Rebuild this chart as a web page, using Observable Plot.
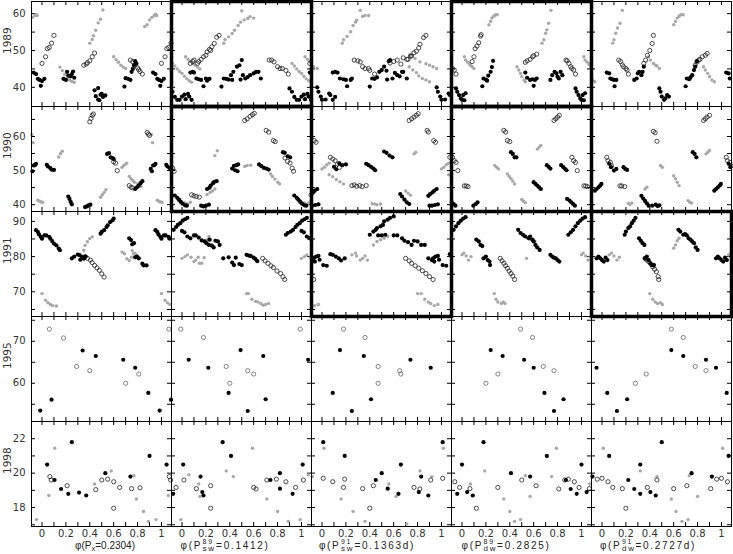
<!DOCTYPE html>
<html><head><meta charset="utf-8">
<script src="https://cdn.jsdelivr.net/npm/d3@7"></script>
<script src="https://cdn.jsdelivr.net/npm/@observablehq/plot@0.6"></script>
<style>
body{margin:0;background:#fff;font-family:"Liberation Sans",Arial,sans-serif;}
#chart{position:relative;width:733px;height:554px;overflow:hidden;}
#chart svg{position:absolute;overflow:visible;}
.xt{position:absolute;font-family:"Liberation Sans",Arial,sans-serif;font-size:10px;color:#222;white-space:nowrap;line-height:10px;transform:translateX(-50%);}
.xt.wide{letter-spacing:1.7px;}
.st{position:relative;display:inline-block;height:0;width:11px;}
.xt.wide .st{width:14px;}
.st .up{position:absolute;left:0.5px;top:-11.5px;font-size:7px;line-height:7px;}
.st .dn{position:absolute;left:0.5px;top:-4px;font-size:8px;line-height:8px;}
.sb{font-size:7.5px;line-height:0;vertical-align:-2px;}
</style></head><body><div id="chart"></div><script>
const years = ["1989","1990","1991","1995","1998"];
const periodSup = ["","89","91","89","91"];
const periodSub = ["x","sw","sw","dw","dw"];
const periodVal = ["0.2304","0.1412","0.1363d","0.2825","0.2727d"];
const phaseTicks = [0,0.1,0.2,0.3,0.4,0.5,0.6,0.7,0.8,0.9,1];
const phaseLabels = [0,0.2,0.4,0.6,0.8,1];
const yDomains = [[34.8,63.3],[38,68.8],[63,92.8],[50.9,75.9],[16.9,23]];
const yTicks = [[40,45,50,55,60],[40,45,50,55,60,65],[65,70,75,80,85,90],[55,60,65,70,75],[17,18,19,20,21,22]];
const yLabels = [[40,50,60],[40,50,60],[70,80,90],[60,70],[18,20,22]];
const thickPanels = [[0,1],[0,3],[1,1],[1,3],[2,2],[2,4]];

// [column, phase, value]
const f1989 = [[0,0.93,44],[0,0.95,43.6],[0,0.965,42.3],[0,0.98,42],[0,0.99,40.4],[0,0.0,41.7],[0,0.02,42.3],[0,0.18,42.3],[0,0.2,42],[0,0.21,44.2],[0,0.22,43.2],[0,0.24,43],[0,0.25,43.6],[0,0.26,44.3],[0,0.27,42.6],[0,0.44,39.2],[0,0.45,37.6],[0,0.47,36.7],[0,0.48,36.5],[0,0.49,38],[0,0.5,38.2],[0,0.51,37.4],[0,0.53,37.8],[0,0.47,39.8],[0,0.69,40.2],[0,0.7,42.5],[0,0.72,42.3],[0,0.74,42],[0,0.75,44.2],[0,0.76,45],[0,0.77,46],[0,0.78,47.1],[0,0.79,46.5],
[1,0.9,39.7],[1,0.92,38.8],[1,0.94,37.4],[1,0.96,36.6],[1,0.98,36.6],[1,0.0,37.5],[1,0.02,38],[1,0.03,36.8],[1,0.05,38.2],[1,0.06,37.5],[1,0.08,36.6],[1,0.07,44],[1,0.09,44.2],[1,0.1,44],[1,0.12,42.4],[1,0.14,42.2],[1,0.16,42],[1,0.18,40.3],[1,0.2,42.4],[1,0.21,41.8],[1,0.23,42.3],[1,0.33,40.2],[1,0.35,42.4],[1,0.37,42.3],[1,0.39,42.1],[1,0.41,43.3],[1,0.42,42],[1,0.43,44.2],[1,0.46,45.6],[1,0.48,46],[1,0.5,47.4],[1,0.49,42.1],[1,0.51,43.3],[1,0.53,42.4],[1,0.55,42.8],[1,0.57,43.3],[1,0.6,43.8],[1,0.62,44.2],[1,0.64,44.2],[1,0.66,42.4],
[2,0.96,40],[2,0.97,38.8],[2,0.99,37.5],[2,0.0,36.6],[2,0.03,36.7],[2,0.06,38.3],[2,0.07,37.9],[2,0.09,36.6],[2,0.11,37.4],[2,0.09,44],[2,0.11,44.2],[2,0.13,44],[2,0.15,42.4],[2,0.18,42.2],[2,0.2,42],[2,0.21,40.3],[2,0.24,42],[2,0.25,42.4],[2,0.4,40.2],[2,0.42,42.4],[2,0.44,42.3],[2,0.46,42.7],[2,0.48,44.2],[2,0.5,44.7],[2,0.52,45.6],[2,0.54,44.5],[2,0.56,47.1],[2,0.57,47.4],[2,0.545,42.1],[2,0.59,42.4],[2,0.61,43.9],[2,0.63,43.3],[2,0.65,43],[2,0.67,44.2],[2,0.68,44.2],[2,0.71,42.4],
[3,0.95,39.7],[3,0.96,38.8],[3,0.975,37.9],[3,0.99,37],[3,0.0,36.6],[3,0.01,37.9],[3,0.03,38.4],[3,0.02,36.5],[3,0.17,40.3],[3,0.18,42.4],[3,0.2,42.1],[3,0.21,41.8],[3,0.22,43.2],[3,0.24,44.2],[3,0.25,45.5],[3,0.26,47.2],[3,0.53,44],[3,0.545,42.6],[3,0.57,42],[3,0.59,42.2],[3,0.6,40.4],[3,0.61,42],[3,0.625,42.4],[3,0.74,42],[3,0.755,43.3],[3,0.775,44.2],[3,0.79,43.8],[3,0.8,42.9],[3,0.81,42.4],[3,0.825,44.2],[3,0.84,43.3],
[4,0.04,44],[4,0.06,43.8],[4,0.07,42.4],[4,0.085,42.2],[4,0.1,42],[4,0.105,40.3],[4,0.12,42],[4,0.27,42],[4,0.29,42.4],[4,0.3,43.8],[4,0.31,44.2],[4,0.33,43.3],[4,0.34,44.2],[4,0.35,45.6],[4,0.48,39.7],[4,0.49,38.8],[4,0.5,37.5],[4,0.52,36.6],[4,0.53,37],[4,0.545,37.9],[4,0.56,37.5],[4,0.7,40.3],[4,0.71,42.4],[4,0.73,42.2],[4,0.74,42.7],[4,0.755,43.3],[4,0.77,44.7],[4,0.78,45.6],[4,0.795,47.1]];
const o1989 = [[0,0.0,46.5],[0,0.03,48.3],[0,0.045,50.5],[0,0.06,50.8],[0,0.08,52],[0,0.1,54.1],[0,0.35,46],[0,0.37,46.3],[0,0.38,46.7],[0,0.4,47.2],[0,0.42,48.3],[0,0.44,49.3],[0,0.74,47.4],[0,0.76,47],[0,0.78,46],[0,0.8,45.3],[0,0.81,44.8],[0,0.82,44.3],[0,0.84,43.6],
[1,0.07,46.5],[1,0.09,47],[1,0.1,47.4],[1,0.13,46.5],[1,0.14,47],[1,0.16,47.6],[1,0.18,48.3],[1,0.2,48.7],[1,0.21,49.6],[1,0.23,50.3],[1,0.24,50],[1,0.25,51],[1,0.27,51.9],[1,0.29,53.6],[1,0.31,54.1],[1,0.73,47.4],[1,0.75,47.4],[1,0.77,46.9],[1,0.8,45.6],[1,0.82,45.1],[1,0.84,45.1],[1,0.87,44.6],[1,0.89,43.6],
[2,0.27,47.4],[2,0.3,47.2],[2,0.32,46.9],[2,0.34,45.6],[2,0.36,45.1],[2,0.39,45.1],[2,0.4,44.6],[2,0.44,43.6],[2,0.57,46.6],[2,0.6,47],[2,0.63,47.4],[2,0.66,46.3],[2,0.68,48],[2,0.71,47.6],[2,0.72,47.6],[2,0.74,48.5],[2,0.75,48.5],[2,0.77,49.4],[2,0.79,49.8],[2,0.81,50.7],[2,0.82,51.7],[2,0.85,53.5],[2,0.87,54.1],
[3,0.085,47],[3,0.1,48.3],[3,0.11,50.5],[3,0.125,51.2],[3,0.14,52.1],[3,0.155,53.9],[3,0.16,54.3],[3,0.53,46.8],[3,0.545,47.2],[3,0.57,47.6],[3,0.59,48.3],[3,0.6,48.6],[3,0.625,49],[3,0.87,47.4],[3,0.88,47.2],[3,0.895,46.5],[3,0.91,45.6],[3,0.92,45.1],[3,0.935,44.7],[3,0.95,43.6],
[4,0.14,47.4],[4,0.155,47],[4,0.17,46.1],[4,0.18,45.6],[4,0.2,45.1],[4,0.21,44.7],[4,0.22,43.6],[4,0.35,46.5],[4,0.365,47.4],[4,0.38,48.7],[4,0.4,50],[4,0.42,51.9],[4,0.43,54.1],[4,0.78,46],[4,0.795,46.9],[4,0.81,47.4],[4,0.82,47.6],[4,0.84,48.3],[4,0.865,48.7],[4,0.88,49.2]];
const g1989 = [[0,0.86,56.5],[0,0.88,57],[0,0.9,58.3],[0,0.92,59],[0,0.94,59.5],[0,0.95,59.8],[0,0.96,59.5],[0,0.15,45.5],[0,0.17,44.5],[0,0.19,43.5],[0,0.21,42.5],[0,0.23,42],[0,0.25,41.6],[0,0.27,41.4],[0,0.4,52],[0,0.42,53],[0,0.43,54],[0,0.45,55.5],[0,0.47,57.5],[0,0.49,58.5],[0,0.51,61],[0,0.6,48.3],[0,0.62,47.5],[0,0.64,46.8],[0,0.66,46],[0,0.68,45.5],[0,0.7,45.1],
[1,0.92,46.5],[1,0.94,45.8],[1,0.96,45],[1,0.98,44.3],[1,0.0,43.8],[1,0.02,43],[1,0.04,42.3],[1,0.06,41.8],[1,0.08,41.4],[1,0.03,48.3],[1,0.05,47.6],[1,0.07,47],[1,0.09,46.4],[1,0.11,46],[1,0.13,45.5],[1,0.15,45],[1,0.35,52],[1,0.36,53],[1,0.39,53.7],[1,0.42,54.6],[1,0.44,55.5],[1,0.47,56.8],[1,0.49,57.7],[1,0.5,60.8],[1,0.52,58.3],[1,0.55,58.7],[1,0.57,59.2],[1,0.6,58.8],
[2,0.17,52],[2,0.18,52.9],[2,0.21,53.8],[2,0.24,55.1],[2,0.26,56.8],[2,0.28,57.7],[2,0.29,58.2],[2,0.32,60.9],[2,0.34,59.3],[2,0.36,59.5],[2,0.39,59.5],[2,0.73,45.6],[2,0.76,44.7],[2,0.79,44],[2,0.81,43.1],[2,0.84,42.4],[2,0.87,42],[2,0.9,41.5],[2,0.74,48.7],[2,0.78,47.8],[2,0.82,46.9],[2,0.87,46.4],[2,0.9,46],[2,0.93,45.6],[2,0.96,45.1],
[3,0.02,48.3],[3,0.03,47.4],[3,0.045,46.9],[3,0.06,46.5],[3,0.07,46],[3,0.085,45.6],[3,0.1,45.1],[3,0.225,57],[3,0.24,57.9],[3,0.25,58.8],[3,0.265,59.3],[3,0.28,59.7],[3,0.295,59.7],[3,0.46,45.6],[3,0.475,44.7],[3,0.49,43.8],[3,0.5,42.9],[3,0.52,42],[3,0.53,41.5],[3,0.67,52],[3,0.685,52.9],[3,0.7,54.7],[3,0.71,55.6],[3,0.725,57.4],[3,0.745,60.9],
[4,0.09,52],[4,0.1,52.9],[4,0.115,54.7],[4,0.13,56.1],[4,0.15,57.4],[4,0.17,60.9],[4,0.39,48.3],[4,0.405,47.4],[4,0.43,46.5],[4,0.45,46],[4,0.46,45.8],[4,0.48,45.1],[4,0.6,57],[4,0.615,57.9],[4,0.63,58.8],[4,0.645,59.3],[4,0.66,59.7],[4,0.68,59.7],[4,0.85,45.6],[4,0.865,44.7],[4,0.885,43.8],[4,0.9,42.9],[4,0.92,42],[4,0.94,41.5]];

const f1990 = [[0,0.91,50.5],[0,0.92,49.8],[0,0.93,51.5],[0,0.94,51.6],[0,0.95,52],[0,0.04,51.7],[0,0.05,51.2],[0,0.07,50.7],[0,0.08,50.3],[0,0.1,50.2],[0,0.22,42.4],[0,0.23,41.7],[0,0.24,40.8],[0,0.25,40.1],[0,0.36,39.3],[0,0.375,39.5],[0,0.39,39.8],[0,0.405,40],[0,0.545,54.9],[0,0.56,55.1],[0,0.575,53.9],[0,0.59,53.7],[0,0.6,53.4],[0,0.78,44.6],[0,0.795,45.1],[0,0.81,45.6],[0,0.825,46.3],[0,0.84,46.9],
[1,0.94,42.7],[1,0.96,42],[1,0.975,41.5],[1,0.99,40.8],[1,0.005,40.3],[1,0.025,39.8],[1,0.04,39.7],[1,0.16,39.7],[1,0.18,39.5],[1,0.2,39.7],[1,0.225,40],[1,0.21,44.6],[1,0.23,45],[1,0.24,45.6],[1,0.26,46.3],[1,0.27,46.7],[1,0.29,46.9],[1,0.42,50.6],[1,0.435,51.4],[1,0.455,51.6],[1,0.47,51.8],[1,0.445,50.1],[1,0.465,49.8],[1,0.645,51.8],[1,0.665,51.3],[1,0.685,50.8],[1,0.705,50.6],[1,0.725,50.3],[1,0.845,55.4],[1,0.86,55.2],[1,0.885,54.2],[1,0.905,53.9],
[2,0.1,51.1],[2,0.12,50.4],[2,0.145,52.1],[2,0.17,51.6],[2,0.2,51.8],[2,0.37,52],[2,0.39,51.6],[2,0.41,51.1],[2,0.43,50.6],[2,0.445,50.1],[2,0.52,55.6],[2,0.54,55.2],[2,0.565,54.4],[2,0.59,53.9],[2,0.655,43.1],[2,0.67,42.4],[2,0.69,41.5],[2,0.71,40.7],[2,0.73,40.2],[2,0.89,42.6],[2,0.905,43.1],[2,0.925,43.6],[2,0.94,44.1],[2,0.96,44.6],[2,0.9,39.7],[2,0.92,39.7],[2,0.945,39.9],[2,0.97,40.1],
[3,0.095,39.7],[3,0.115,40.2],[3,0.13,40.7],[3,0.41,55.4],[3,0.425,54.9],[3,0.44,53.9],[3,0.455,53.9],[3,0.6,46.6],[3,0.615,46.1],[3,0.63,45.6],[3,0.645,45.1],[3,0.66,44.6],[3,0.71,51.6],[3,0.725,51.1],[3,0.74,50.6],[3,0.83,51.6],[3,0.845,51.1],[3,0.86,50.6],[3,0.875,50.1],[3,0.88,41.7],[3,0.9,41.2],[3,0.915,40.7],[3,0.93,40.2],[3,0.945,39.7],
[4,0.94,44.1],[4,0.955,44.6],[4,0.97,45.1],[4,0.985,45.6],[4,0.995,46.1],[4,0.06,52],[4,0.075,51],[4,0.1,50],[4,0.12,50.5],[4,0.18,51],[4,0.195,50.5],[4,0.21,50.2],[4,0.33,42.6],[4,0.345,41.8],[4,0.36,41.1],[4,0.375,40.4],[4,0.39,39.7],[4,0.42,39.7],[4,0.45,40],[4,0.465,39.6],[4,0.48,39.8],[4,0.76,55.4],[4,0.775,54.9],[4,0.79,53.9]];
const o1990 = [[0,0.4,64.3],[0,0.41,65.3],[0,0.42,66.2],[0,0.43,66.6],[0,0.6,52.6],[0,0.615,52.2],[0,0.63,50],[0,0.73,45.6],[0,0.745,45.1],[0,0.76,44.9],[0,0.88,61.2],[0,0.89,60.7],[0,0.9,60.3],
[1,0.08,42.9],[1,0.1,42.6],[1,0.12,42.4],[1,0.145,42.2],[1,0.525,64.7],[1,0.545,65.2],[1,0.57,65.9],[1,0.59,66.4],[1,0.605,66.8],[1,0.705,61.8],[1,0.725,61.3],[1,0.765,58.8],[1,0.78,58.5],[1,0.862,53.7],[1,0.883,52.7],[1,0.904,52.2],[1,0.922,50.7],[1,0.934,49.8],
[2,0.07,53.9],[2,0.09,53.4],[2,0.11,52.9],[2,0.13,51.9],[2,0.145,50.9],[2,0.25,45.6],[2,0.27,45.8],[2,0.29,45.4],[2,0.315,45.6],[2,0.335,45.3],[2,0.37,45.6],[2,0.73,64.7],[2,0.75,65.2],[2,0.77,65.7],[2,0.79,66.2],[2,0.805,66.7],[2,0.88,61.8],[2,0.89,61.3],[2,0.935,58.8],[2,0.95,58.3],
[3,0.35,61.8],[3,0.365,61.3],[3,0.38,58.8],[3,0.4,58.5],[3,0.77,64.7],[3,0.785,65.2],[3,0.8,65.7],[3,0.815,66.2],[3,0.92,53.9],[3,0.935,52.9],[3,0.95,52.4],[3,0.965,50],[3,0.02,45.5],[3,0.035,45.5],[3,0.05,45.3],
[4,0.04,53.9],[4,0.05,52.9],[4,0.07,52.4],[4,0.08,51.4],[4,0.15,45.5],[4,0.165,45.5],[4,0.19,45.3],[4,0.43,61.5],[4,0.445,61.1],[4,0.46,58.6],[4,0.85,64.7],[4,0.865,65.2],[4,0.88,65.7],[4,0.9,66.2]];
const g1990 = [[0,0.915,60.6],[0,0.925,58.2],[0,0.965,41.3],[0,0.98,41],[0,0.99,40.8],[0,0.005,40.7],[0,0.14,54],[0,0.155,55],[0,0.17,55.7],[0,0.49,42.2],[0,0.505,42.9],[0,0.52,43.6],[0,0.535,44.4],[0,0.67,51],[0,0.685,51.5],[0,0.7,51.9],[0,0.71,52.2],[0,0.73,48.3],[0,0.745,47.6],[0,0.76,47.1],[0,0.775,46.6],[0,0.8,46.1],[0,0.815,45.6],[0,0.83,45.3],
[1,0.97,41.2],[1,0.0,40.6],[1,0.025,40.5],[1,0.05,40.2],[1,0.07,40.7],[1,0.21,43],[1,0.235,43.6],[1,0.255,44],[1,0.275,44.6],[1,0.275,54.4],[1,0.295,55.8],[1,0.525,51.2],[1,0.545,51.5],[1,0.575,51.6],[1,0.742,49],[1,0.757,48.3],[1,0.778,47.5],[1,0.802,46.6],[1,0.817,46.1],
[2,0.0,50.5],[2,0.02,51],[2,0.04,51.7],[2,0.06,52.2],[2,0.42,40.3],[2,0.44,40.2],[2,0.46,40],[2,0.49,40.2],[2,0.7,44],[2,0.72,43.4],[2,0.74,42.8],[2,0.77,54.9],[2,0.785,55.4],[2,0.06,48.8],[2,0.09,48.2],[2,0.12,47.4],[2,0.15,46.7],[2,0.18,46.1],
[3,0.275,51.5],[3,0.29,51],[3,0.305,50.5],[3,0.38,49],[3,0.395,48.3],[3,0.41,47.6],[3,0.425,46.9],[3,0.44,46.1],[3,0.5,41.5],[3,0.515,41],[3,0.53,40.6],[3,0.63,56.3],[3,0.645,56.8],[3,0.66,57.4],
[4,0.22,40.4],[4,0.235,40.1],[4,0.25,40.5],[4,0.36,44.6],[4,0.375,45.1],[4,0.49,51.5],[4,0.505,51],[4,0.6,48.5],[4,0.615,47.6],[4,0.63,46.6],[4,0.645,45.6],[4,0.72,41.2],[4,0.735,40.7],[4,0.75,40.5],[4,0.87,54.9],[4,0.885,55.4],[4,0.9,55.9]];

const f1991 = [[0,0.95,87.5],[0,0.965,87],[0,0.975,86.3],[0,0.99,85.6],[0,0.0,85.1],[0,0.02,86],[0,0.035,86],[0,0.06,85.6],[0,0.07,85.1],[0,0.085,84.4],[0,0.1,83.7],[0,0.12,83.2],[0,0.14,82.3],[0,0.15,81.8],[0,0.25,79.5],[0,0.27,80],[0,0.3,80.6],[0,0.315,80.4],[0,0.335,79.9],[0,0.35,79.4],[0,0.365,80],[0,0.32,79.1],[0,0.49,86.5],[0,0.5,87],[0,0.52,87.5],[0,0.54,88.4],[0,0.55,88.9],[0,0.57,89.8],[0,0.59,90.3],[0,0.6,90.8],[0,0.73,85.2],[0,0.745,84.7],[0,0.755,83.5],[0,0.77,83.8],[0,0.78,79.8],[0,0.795,80],[0,0.81,79.5],[0,0.84,78],[0,0.85,77.5],[0,0.875,77.5],
[1,0.87,86.2],[1,0.885,86.7],[1,0.91,87.1],[1,0.93,87.6],[1,0.95,88.4],[1,0.965,89],[1,0.985,89.5],[1,0.005,90.2],[1,0.025,90.6],[1,0.045,91],[1,0.0,87.3],[1,0.02,86.9],[1,0.045,85.7],[1,0.07,85.2],[1,0.1,86],[1,0.115,86],[1,0.14,85.4],[1,0.165,84.6],[1,0.19,84.3],[1,0.205,83.8],[1,0.225,83.3],[1,0.23,84.8],[1,0.25,83.1],[1,0.265,82.6],[1,0.28,84.5],[1,0.3,84.3],[1,0.315,83.3],[1,0.345,79.5],[1,0.39,79.8],[1,0.42,78.3],[1,0.45,79.7],[1,0.48,77.9],[1,0.5,77.6],[1,0.435,77.6],[1,0.54,80.5],[1,0.56,80.3],[1,0.575,80.2],[1,0.6,79.7],[1,0.615,79.3],[1,0.63,78.7],
[2,0.93,79.5],[2,0.95,80],[2,0.98,79.1],[2,0.01,77.6],[2,0.04,77.4],[2,0.07,80.7],[2,0.09,80.5],[2,0.115,80],[2,0.14,79.5],[2,0.16,78.9],[2,0.19,79.5],[2,0.4,86.2],[2,0.43,87.1],[2,0.45,87.6],[2,0.46,88.1],[2,0.49,88.6],[2,0.51,89],[2,0.52,90],[2,0.55,90.5],[2,0.57,91],[2,0.6,91.4],[2,0.47,86],[2,0.5,86],[2,0.53,86.2],[2,0.6,86],[2,0.63,86],[2,0.67,85.2],[2,0.69,84.5],[2,0.72,84.1],[2,0.75,83.3],[2,0.77,84.5],[2,0.8,84.3],[2,0.83,83.3],[2,0.86,83.3],[2,0.89,79.5],[2,0.92,79],[2,0.94,78.6],[2,0.97,80.2],
[3,0.89,86.2],[3,0.91,86.9],[3,0.93,87.6],[3,0.95,88.6],[3,0.97,89.5],[3,0.99,90.2],[3,0.01,90.8],[3,0.03,91.2],[3,0.12,84.8],[3,0.14,84.3],[3,0.155,83.3],[3,0.17,83],[3,0.18,79.5],[3,0.2,80],[3,0.215,79],[3,0.23,78.6],[3,0.235,77.6],[3,0.47,87.6],[3,0.49,86.7],[3,0.51,86.2],[3,0.53,85.7],[3,0.56,85.2],[3,0.57,85.7],[3,0.59,84.8],[3,0.6,84.3],[3,0.615,83.3],[3,0.63,82.6],[3,0.65,81.9],[3,0.74,80.5],[3,0.755,80],[3,0.77,79.7],[3,0.785,79.5],[3,0.8,79],[3,0.815,78.6],
[4,0.955,79.5],[4,0.97,80],[4,0.985,79.5],[4,0.0,79],[4,0.015,78.6],[4,0.03,79.7],[4,0.045,79],[4,0.19,86.2],[4,0.2,87.1],[4,0.22,88.1],[4,0.235,88.6],[4,0.25,89.5],[4,0.265,90.2],[4,0.28,91],[4,0.31,85.2],[4,0.325,84.5],[4,0.34,83.8],[4,0.355,83.3],[4,0.36,79.5],[4,0.375,80],[4,0.39,79],[4,0.405,78.1],[4,0.42,77.6],[4,0.435,77.6],[4,0.64,87.6],[4,0.655,87.1],[4,0.68,86.2],[4,0.695,86.4],[4,0.71,86],[4,0.725,85.2],[4,0.74,84.8],[4,0.755,84.3],[4,0.77,83.8],[4,0.785,82.6],[4,0.8,81.9]];
const o1991 = [[0,0.36,80],[0,0.38,79.5],[0,0.405,79],[0,0.42,78.3],[0,0.44,77.5],[0,0.46,76.8],[0,0.48,76.1],[0,0.5,75.1],[0,0.52,74.2],
[1,0.675,79.5],[1,0.695,78.8],[1,0.72,78.1],[1,0.745,77.4],[1,0.765,76.9],[1,0.795,75.9],[1,0.825,75.2],[1,0.845,74.3],[1,0.86,73.5],
[2,0.7,79.5],[2,0.73,78.8],[2,0.75,78.1],[2,0.78,77.4],[2,0.81,76.7],[2,0.84,76],[2,0.87,75.2],[2,0.9,74.3],[2,0.93,73.5],
[3,0.32,79.5],[3,0.335,78.8],[3,0.35,78.1],[3,0.365,77.4],[3,0.38,76.7],[3,0.395,75.9],[3,0.41,75.2],[3,0.425,74.5],[3,0.44,73.5],
[4,0.36,79.5],[4,0.375,79],[4,0.39,78.6],[4,0.41,77.8],[4,0.425,77.1],[4,0.44,76.4],[4,0.455,75.7],[4,0.47,74.3],[4,0.475,73.5]];
const g1991 = [[0,0.0,69.5],[0,0.03,67.6],[0,0.05,66.9],[0,0.07,66.4],[0,0.09,66.1],[0,0.12,66],[0,0.35,81.8],[0,0.36,83.2],[0,0.38,84.2],[0,0.4,85.1],[0,0.42,85.6],[0,0.67,81.3],[0,0.69,80.8],[0,0.71,79.4],[0,0.73,78.9],[0,0.75,79.8],[0,0.755,81.7],[0,0.765,80.8],[0,0.78,81],[0,0.79,80.3],[0,0.81,79.4],
[1,0.0,79.5],[1,0.025,80],[1,0.045,80.5],[1,0.075,79.8],[1,0.1,78.6],[1,0.115,79],[1,0.135,79.8],[1,0.145,78.1],[1,0.165,78.1],[1,0.185,79.7],[1,0.21,84.8],[1,0.225,85.7],[1,0.24,84.8],[1,0.54,69.5],[1,0.555,69.5],[1,0.585,67.9],[1,0.615,67.3],[1,0.635,67.1],[1,0.66,66.7],[1,0.68,66.2],[1,0.7,66.4],[1,0.725,66.7],
[2,0.25,80.5],[2,0.28,81],[2,0.29,80.2],[2,0.32,79],[2,0.34,79.5],[2,0.36,80.2],[2,0.38,79],[2,0.43,83.3],[2,0.46,84.3],[2,0.49,84.8],[2,0.52,85.2],[2,0.55,85.7],[2,0.8,69.5],[2,0.83,69.5],[2,0.86,67.9],[2,0.89,67.1],[2,0.91,66.7],[2,0.94,66.1],[2,0.97,66.4],
[3,0.0,80.5],[3,0.015,81],[3,0.035,80.2],[3,0.055,79],[3,0.075,80],[3,0.52,85.7],[3,0.55,85.2],[3,0.58,84.8],[3,0.61,84.3],[3,0.54,79.5],[3,0.27,69.5],[3,0.285,67.9],[3,0.3,67.1],[3,0.33,66.7],[3,0.345,67.1],[3,0.36,66.7],
[4,0.06,80.5],[4,0.08,81],[4,0.1,80.2],[4,0.125,79],[4,0.145,79.8],[4,0.6,82.4],[4,0.615,83.3],[4,0.63,84.5],[4,0.645,85.2],[4,0.4,69.5],[4,0.425,67.9],[4,0.445,67.1],[4,0.465,66.7],[4,0.49,66.9],[4,0.505,66.4]];

const f1995 = [[0,0.08,56.1],[0,0.34,67.8],[0,0.45,66.5],[0,0.68,65.6],[0,0.78,63.7],[0,0.89,57.7],[0,0.985,53.5],
[1,0.056,65.6],[1,0.22,63.7],[1,0.39,57.7],[1,0.49,67.9],[1,0.55,53.4],[1,0.68,66.5],[1,0.7,56.2],
[2,0.91,63.7],[2,0.09,57.7],[2,0.15,67.9],[2,0.25,53.4],[2,0.35,66.5],[2,0.41,56.2],[2,0.74,65.6],
[3,0.24,67.9],[3,0.34,66.5],[3,0.52,65.6],[3,0.6,63.7],[3,0.69,57.7],[3,0.77,53.4],[3,0.85,56.2],
[4,0.954,63.7],[4,0.044,57.7],[4,0.125,53.4],[4,0.21,56.2],[4,0.58,67.9],[4,0.68,66.5],[4,0.87,65.6]];
const o1995 = [[0,0.062,72.9],[0,0.18,70.8],[0,0.29,64],[0,0.4,63],[0,0.7,60],[0,0.81,62.2],
[1,0.99,72.9],[1,0.18,70.9],[1,0.37,64],[1,0.4,60],[1,0.55,63],[1,0.6,62.2],
[2,0.18,72.9],[2,0.36,70.9],[2,0.47,64],[2,0.47,60],[2,0.65,63],[2,0.66,62.2],
[3,0.49,72.9],[3,0.59,70.9],[3,0.3,62.2],[3,0.2,60],[3,0.68,64],[3,0.77,63],
[4,0.58,72.9],[4,0.68,70.9],[4,0.37,62.2],[4,0.28,60],[4,0.78,64],[4,0.87,63]];
const g1995 = [];

const f1998 = [[0,0.043,20.5],[0,0.105,19.6],[0,0.16,19.08],[0,0.22,18.8],[0,0.25,21.8],[0,0.31,18.87],[0,0.37,18.7],[0,0.53,20],[0,0.74,19.8],[0,0.9,21],
[1,0.926,18.8],[1,0.01,20.5],[1,0.17,18.9],[1,0.155,19.8],[1,0.18,18.7],[1,0.34,21.8],[1,0.41,21],[1,0.74,19.6],[1,0.82,20],[1,0.82,19.1],
[2,0.01,21.8],[2,0.19,21],[2,0.45,19.6],[2,0.5,20],[2,0.55,19.1],[2,0.64,18.8],[2,0.66,20.5],[2,0.81,18.9],[2,0.83,19.8],[2,0.89,18.7],
[3,0.0,20.5],[3,0.043,18.9],[3,0.09,18.7],[3,0.18,21.8],[3,0.41,20],[3,0.57,19.8],[3,0.71,21],[3,0.87,19.6],[3,0.91,19.08],[3,0.96,18.8],
[4,0.92,19.8],[4,0.06,21],[4,0.22,19.6],[4,0.27,19.08],[4,0.32,18.8],[4,0.32,20.5],[4,0.405,18.9],[4,0.45,18.7],[4,0.5,21.8],[4,0.75,20]];
const o1998 = [[0,0.066,19.8],[0,0.077,19.6],[0,0.21,19.27],[0,0.45,19.04],[0,0.5,19.6],[0,0.55,19.65],[0,0.6,19.5],[0,0.6,17.96],[0,0.65,19.17],[0,0.75,19.1],[0,0.82,19.15],
[1,0.95,19.17],[1,0.016,19.6],[1,0.12,19.1],[1,0.24,19.27],[1,0.24,17.96],[1,0.6,19.17],[1,0.62,19.08],[1,0.71,19.6],[1,0.79,19.65],[1,0.87,19.5],
[2,0.01,19.7],[2,0.09,19.5],[2,0.18,19.17],[2,0.19,19.65],[2,0.34,19.1],[2,0.4,17.96],[2,0.43,19.27],[2,0.77,19.17],[2,0.82,19.08],[2,0.91,19.6],
[3,0.066,19.1],[3,0.12,17.96],[3,0.3,19.17],[3,0.5,19.6],[3,0.62,19.27],[3,0.81,19.08],[3,0.86,19.6],[3,0.89,19.65],[3,0.94,19.5],[3,0.98,19.17],
[4,0.96,19.65],[4,0.0,19.7],[4,0.05,19.5],[4,0.09,19.17],[4,0.17,19.1],[4,0.2,17.96],[4,0.38,19.17],[4,0.46,19.6],[4,0.6,19.1],[4,0.71,19.27],[4,0.91,19.1]];
const g1998 = [[0,0.955,17.3],[0,0.057,18.7],[0,0.107,21.45],[0,0.44,19.37],[0,0.58,20.13],[0,0.77,19.85],[0,0.79,18.5],[0,0.85,17.77],[0,0.89,17.2],
[1,0.99,17.3],[1,0.057,19.9],[1,0.14,19.37],[1,0.15,18.65],[1,0.37,20.13],[1,0.43,19.8],[1,0.59,21.45],[1,0.71,18.5],[1,0.8,17.77],[1,0.89,17.2],
[2,0.016,21.45],[2,0.16,18.5],[2,0.26,17.77],[2,0.36,17.2],[2,0.56,19.37],[2,0.62,18.65],[2,0.71,17.05],[2,0.82,20.13],[2,0.92,19.8],
[3,0.07,19.37],[3,0.19,20.13],[3,0.35,18.5],[3,0.4,17.77],[3,0.44,17.2],[3,0.49,17.3],[3,0.53,19.85],[3,0.57,18.65],[3,0.75,19.8],[3,0.79,21.45],
[4,0.01,21.45],[4,0.32,20.13],[4,0.46,19.8],[4,0.58,18.5],[4,0.62,17.77],[4,0.67,17.2],[4,0.72,17.3],[4,0.73,19.85],[4,0.8,18.65]];

const filledRows = [f1989,f1990,f1991,f1995,f1998];
const openRows = [o1989,o1990,o1991,o1995,o1998];
const grayRows = [g1989,g1990,g1991,g1995,g1998];
const openStroke = ["#222","#222","#222","#666","#222"];

const W = 140, H = 105, ML = 31, MB = 28, TOP = 1;
const xDomain = [-0.088, 1.084];
const FONT = "DejaVu Sans, Verdana, sans-serif";

// phase-folded data are repeated outside [0,1) as in the original figure
function fold(rows, c) {
  const out = [];
  for (const [cc, p, v] of rows) {
    if (cc !== c) continue;
    const b = ((p % 1) + 1) % 1;
    for (const k of [-1, 0, 1]) {
      const q = b + k;
      if (q >= xDomain[0] && q <= xDomain[1]) out.push({p: q, v});
    }
  }
  return out;
}

const chart = document.getElementById("chart");
const panels = [];
years.forEach((yr, r) => {
  for (let c = 0; c < 5; c++) {
    const thick = thickPanels.some(([a, b]) => a === r && b === c);
    panels.push({r, c, thick});
  }
});
panels.sort((a, b) => a.thick - b.thick);

for (const {r, c, thick} of panels) {
  const ml = c === 0 ? ML : 0;
  const mb = r === 4 ? MB : 0;
  const marks = [
    Plot.ruleX(phaseTicks, {x: d => d, insetTop: H - 4, stroke: "#000"}),
    Plot.ruleX(phaseTicks, {x: d => d, insetBottom: H - 4, stroke: "#000"}),
    Plot.ruleY(yTicks[r], {y: d => d, insetRight: W - 4, stroke: "#000"}),
    Plot.ruleY(yTicks[r], {y: d => d, insetLeft: W - 4, stroke: "#000"}),
    Plot.dot(fold(grayRows[r], c), {x: "p", y: "v", r: 1.7, fill: "#a8a8a8", stroke: "none"}),
    Plot.dot(fold(openRows[r], c), {x: "p", y: "v", r: 2.1, fill: "none", stroke: openStroke[r], strokeWidth: 0.8}),
    Plot.dot(fold(filledRows[r], c), {x: "p", y: "v", r: 2.1, fill: "#000", stroke: "none"}),
    Plot.frame({stroke: "#000", strokeWidth: thick ? 3.5 : 1})
  ];
  if (c === 0) {
    marks.push(Plot.axisY(yLabels[r], {tickSize: 0, tickPadding: 6, fontSize: 10, color: "#333", label: null, tickFormat: d => String(d)}));
    marks.push(Plot.text([years[r]], {text: d => d, frameAnchor: "left", dx: -23.5, rotate: -90, fontSize: 10.5, fill: "#333"}));
  }
  if (r === 4) {
    marks.push(Plot.axisX(phaseLabels, {tickSize: 0, tickPadding: 3, fontSize: 10, color: "#333", label: null, tickFormat: d => String(d)}));
  }
  const svg = Plot.plot({
    width: W + ml, height: H + mb,
    marginLeft: ml, marginRight: 0, marginTop: 0, marginBottom: mb,
    x: {domain: xDomain, axis: r === 4 ? undefined : null},
    y: {domain: yDomains[r], axis: c === 0 ? undefined : null},
    style: {fontFamily: FONT, background: "transparent", overflow: "visible"},
    marks
  });
  svg.style.position = "absolute";
  svg.style.left = (c === 0 ? 0 : ML + W * c) + "px";
  svg.style.top = (TOP + H * r) + "px";
  svg.style.overflow = "visible";
  svg.style.maxWidth = "none";
  chart.appendChild(svg);
}

const titleCenters = [105, 225, 367, 506, 648];
periodVal.forEach((val, c) => {
  const div = document.createElement("div");
  div.className = c === 0 ? "xt" : "xt wide";
  div.style.left = titleCenters[c] + "px";
  div.style.top = "541px";
  const sub = periodSub[c], sup = periodSup[c];
  const mid = sup
    ? `<span class="st"><span class="up">${sup}</span><span class="dn">${sub}</span></span>`
    : `<span class="sb">${sub}</span>`;
  div.innerHTML = `φ(P${mid}=${val})`;
  chart.appendChild(div);
});
</script></body></html>
